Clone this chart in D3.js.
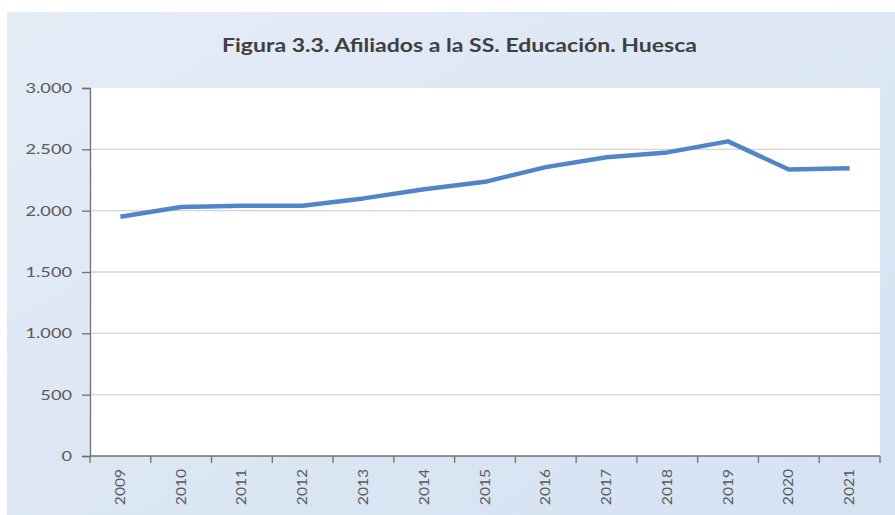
<!DOCTYPE html>
<html><head><meta charset="utf-8">
<script src="https://cdn.jsdelivr.net/npm/d3@7"></script>
<style>html,body{margin:0;padding:0;background:#fff;}svg{display:block;}</style>
</head><body>
<svg id="chart" width="895" height="515"></svg>
<script>
const title = "Figura 3.3. Afiliados a la SS. Educación. Huesca";
const years = ["2009","2010","2011","2012","2013","2014","2015","2016","2017","2018","2019","2020","2021"];
const afiliados = [1950, 2030, 2040, 2040, 2100, 2175, 2235, 2355, 2435, 2475, 2565, 2335, 2345];
const yTicks = [0, 500, 1000, 1500, 2000, 2500, 3000];

const svg = d3.select("#chart");
const W = 895, H = 515;
const m = {left: 90, right: 15, top: 88, bottom: 59};
const FONT = "Lato, 'Open Sans', sans-serif";
const TXT = "#5a5a5a";
const AX = "#707070";

const defs = svg.append("defs");
const grad = defs.append("linearGradient").attr("id","bg").attr("x1","0").attr("y1","0").attr("x2","1").attr("y2","1");
grad.append("stop").attr("offset","0%").attr("stop-color","#e4ecf6");
grad.append("stop").attr("offset","100%").attr("stop-color","#d5e2f2");

svg.append("rect").attr("x",7).attr("y",12).attr("width",W-7).attr("height",H-12).attr("fill","url(#bg)");

const x = d3.scaleBand().domain(years).range([m.left, W - m.right]).paddingInner(0).paddingOuter(0);
const y = d3.scaleLinear().domain([0, 3000]).range([H - m.bottom, m.top]);

svg.append("rect").attr("x", m.left).attr("y", m.top).attr("width", W - m.right - m.left).attr("height", H - m.bottom - m.top).attr("fill", "#ffffff");

const loc = d3.formatLocale({decimal: ",", thousands: ".", grouping: [3], currency: ["", "€"]});
const fmt = loc.format(",.0f");

// gridlines
svg.append("g").selectAll("line").data(yTicks.filter(d => d > 0 && d < 3000)).join("line")
  .attr("x1", m.left).attr("x2", W - m.right)
  .attr("y1", d => y(d)).attr("y2", d => y(d))
  .attr("stroke", "#d8d2d2").attr("stroke-width", 1.3);

// y axis
const yAxis = svg.append("g").attr("transform", `translate(${m.left},0)`)
  .call(d3.axisLeft(y).tickValues(yTicks).tickFormat(fmt).tickSize(8).tickPadding(18));
yAxis.select(".domain").attr("stroke", AX).attr("stroke-width", 1.3);
yAxis.selectAll(".tick line").attr("stroke", AX).attr("stroke-width", 1.3);
const sx = 1.3;
yAxis.selectAll("text").attr("fill", TXT).style("font-family", FONT).style("font-size", "14px")
  .attr("x", -18 / sx).attr("transform", `scale(${sx},1)`);

// x axis
const xAxis = svg.append("g").attr("transform", `translate(0,${H - m.bottom})`);
xAxis.append("line").attr("x1", m.left).attr("x2", W - m.right).attr("y1", 0).attr("y2", 0).attr("stroke", AX).attr("stroke-width", 1.3);
const bounds = years.map(d => x(d)).concat([x(years[years.length-1]) + x.bandwidth()]);
xAxis.selectAll("line.tk").data(bounds).join("line").attr("class","tk")
  .attr("x1", d => d).attr("x2", d => d).attr("y1", 0).attr("y2", 7).attr("stroke", AX).attr("stroke-width", 1.3);
xAxis.selectAll("text").data(years).join("text")
  .attr("transform", d => `translate(${x(d) + x.bandwidth()/2},13) rotate(-90) scale(1.2,1)`)
  .attr("text-anchor", "end").attr("dy", "0.35em")
  .attr("fill", TXT).style("font-family", FONT).style("font-size", "13px")
  .text(d => d);

// line
const line = d3.line().x((d, i) => x(years[i]) + x.bandwidth()/2).y(d => y(d));
svg.append("path").datum(afiliados).attr("d", line)
  .attr("fill", "none").attr("stroke", "#4f86c9").attr("stroke-width", 4.5).attr("stroke-linejoin", "round").attr("stroke-linecap", "butt");

// title
svg.append("text").attr("x", 222).attr("y", 52).attr("text-anchor", "start")
  .attr("textLength", 475).attr("lengthAdjust", "spacingAndGlyphs")
  .attr("fill", "#3f3f3f").style("font-family", FONT).style("font-weight", "bold").style("font-size", "19px")
  .text(title);
</script>
</body></html>
